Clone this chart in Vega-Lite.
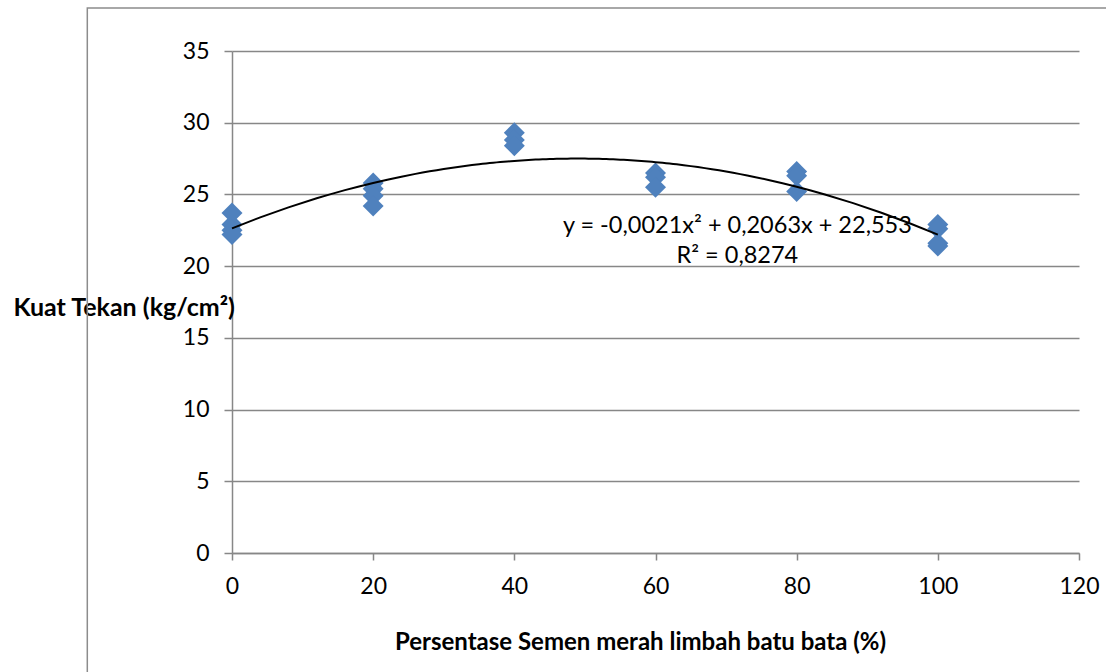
{
  "$schema": "https://vega.github.io/schema/vega-lite/v6.json",
  "width": 847,
  "height": 502,
  "autosize": {"type": "none"},
  "padding": {"left": 232, "top": 51, "right": 27, "bottom": 119},
  "background": "white",
  "config": {
    "view": {"stroke": null},
    "font": "Lato",
    "axis": {
      "domainColor": "#878787",
      "domainWidth": 1.5,
      "tickColor": "#878787",
      "tickWidth": 1.5,
      "gridColor": "#878787",
      "gridWidth": 1.3,
      "labelColor": "#000000",
      "labelFont": "Lato",
      "labelFontSize": 23,
      "labelFlush": false,
      "titleColor": "#000000",
      "titleFont": "Lato",
      "titleFontSize": 24,
      "titleFontWeight": "bold"
    }
  },
  "layer": [
    {
      "data": {"values": [{}]},
      "mark": {"type": "rect", "fill": null, "stroke": "#8c8c8c", "strokeWidth": 1.5, "clip": false},
      "encoding": {
        "x": {"datum": -20.5, "type": "quantitative", "scale": {"domain": [0, 120]}},
        "x2": {"datum": 130},
        "y": {"datum": 38.0, "type": "quantitative", "scale": {"domain": [0, 35]}},
        "y2": {"datum": -10}
      }
    },
    {
      "data": {
        "values": [
          {"pct": 0, "kuat": 23.7},
          {"pct": 0, "kuat": 22.9},
          {"pct": 0, "kuat": 22.5},
          {"pct": 0, "kuat": 22.2},
          {"pct": 20, "kuat": 25.8},
          {"pct": 20, "kuat": 25.4},
          {"pct": 20, "kuat": 24.9},
          {"pct": 20, "kuat": 24.2},
          {"pct": 40, "kuat": 29.3},
          {"pct": 40, "kuat": 28.8},
          {"pct": 40, "kuat": 28.4},
          {"pct": 60, "kuat": 26.5},
          {"pct": 60, "kuat": 26.2},
          {"pct": 60, "kuat": 25.5},
          {"pct": 80, "kuat": 26.6},
          {"pct": 80, "kuat": 26.3},
          {"pct": 80, "kuat": 25.2},
          {"pct": 100, "kuat": 22.9},
          {"pct": 100, "kuat": 22.6},
          {"pct": 100, "kuat": 21.6},
          {"pct": 100, "kuat": 21.4}
        ],
        "name": "pts"
      },
      "layer": [
        {
          "mark": {"type": "point", "shape": "diamond", "filled": true, "size": 440, "fill": "#4F81BD", "strokeWidth": 0, "opacity": 1},
          "encoding": {
            "x": {
              "field": "pct",
              "type": "quantitative",
              "scale": {"domain": [0, 120], "nice": false, "zero": true},
              "axis": {
                "values": [0, 20, 40, 60, 80, 100, 120],
                "grid": false,
                "tickSize": 7,
                "labelPadding": 15,
                "title": "Persentase Semen merah limbah batu bata (%)",
                "titleX": 408,
                "titleY": 96,
                "titleBaseline": "alphabetic",
                "titleAlign": "center",
                "titleAnchor": null
              }
            },
            "y": {
              "field": "kuat",
              "type": "quantitative",
              "scale": {"domain": [0, 35], "nice": false},
              "axis": {
                "values": [0, 5, 10, 15, 20, 25, 30, 35],
                "grid": true,
                "tickSize": 8,
                "labelPadding": 15,
                "title": "Kuat Tekan (kg/cm²)",
                "titleFontSize": 25,
                "titleAngle": 0,
                "titleAlign": "left",
                "titleBaseline": "alphabetic",
                "titleX": -219,
                "titleY": 264
              }
            }
          }
        },
        {
          "transform": [
            {"regression": "kuat", "on": "pct", "method": "poly", "order": 2, "extent": [0, 100]}
          ],
          "mark": {"type": "line", "stroke": "#000000", "strokeWidth": 2},
          "encoding": {
            "x": {"field": "pct", "type": "quantitative"},
            "y": {"field": "kuat", "type": "quantitative"}
          }
        }
      ]
    },
    {
      "data": {"values": [{}]},
      "mark": {"type": "text", "text": "y = -0,0021x² + 0,2063x + 22,553", "fontSize": 23.5, "font": "Lato", "fontWeight": "normal", "fill": "#000000", "align": "center", "baseline": "alphabetic"},
      "encoding": {
        "x": {"datum": 71.6, "type": "quantitative"},
        "y": {"datum": 22.3, "type": "quantitative"}
      }
    },
    {
      "data": {"values": [{}]},
      "mark": {"type": "text", "text": "R² = 0,8274", "fontSize": 23.5, "font": "Lato", "fontWeight": "normal", "fill": "#000000", "align": "center", "baseline": "alphabetic"},
      "encoding": {
        "x": {"datum": 71.6, "type": "quantitative"},
        "y": {"datum": 20.2, "type": "quantitative"}
      }
    }
  ]
}
